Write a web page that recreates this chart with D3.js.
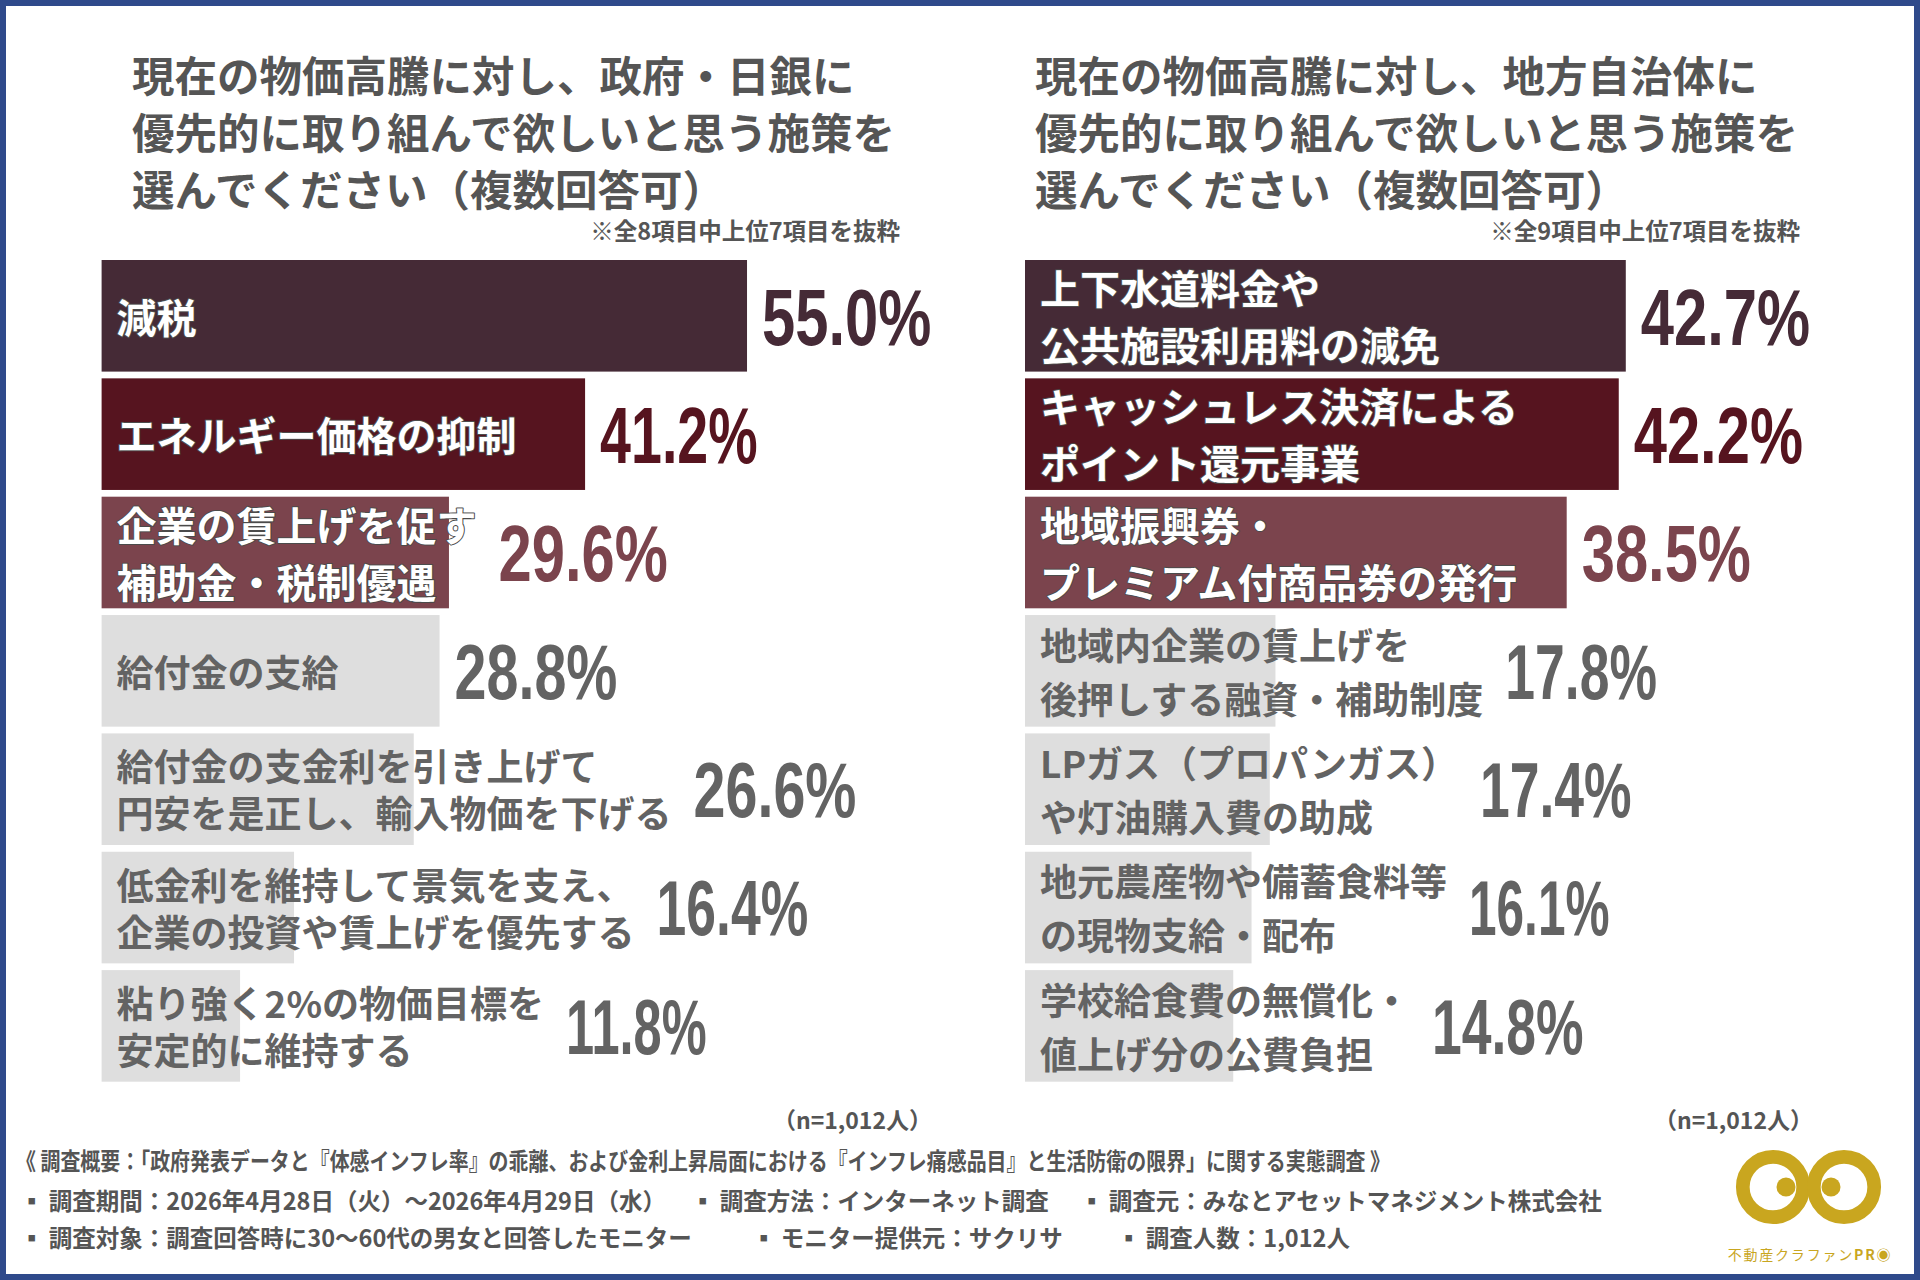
<!DOCTYPE html>
<html>
<head>
<meta charset="utf-8">
<script src="https://cdn.jsdelivr.net/npm/d3@7"></script>
<style>
  body { margin: 0; background: #fff; }
  svg { display: block; }
</style>
</head>
<body>
<div id="chart"></div>
<script>
// --- data ---
var leftTitle = ["現在の物価高騰に対し、政府・日銀に", "優先的に取り組んで欲しいと思う施策を", "選んでください（複数回答可）"];
var leftNote = "※全8項目中上位7項目を抜粋";
var leftLabels = [
  ["減税"],
  ["エネルギー価格の抑制"],
  ["企業の賃上げを促す", "補助金・税制優遇"],
  ["給付金の支給"],
  ["給付金の支金利を引き上げて", "円安を是正し、輸入物価を下げる"],
  ["低金利を維持して景気を支え、", "企業の投資や賃上げを優先する"],
  ["粘り強く2%の物価目標を", "安定的に維持する"]
];
var leftValues = [55.0, 41.2, 29.6, 28.8, 26.6, 16.4, 11.8];

var rightTitle = ["現在の物価高騰に対し、地方自治体に", "優先的に取り組んで欲しいと思う施策を", "選んでください（複数回答可）"];
var rightNote = "※全9項目中上位7項目を抜粋";
var rightLabels = [
  ["上下水道料金や", "公共施設利用料の減免"],
  ["キャッシュレス決済による", "ポイント還元事業"],
  ["地域振興券・", "プレミアム付商品券の発行"],
  ["地域内企業の賃上げを", "後押しする融資・補助制度"],
  ["LPガス（プロパンガス）", "や灯油購入費の助成"],
  ["地元農産物や備蓄食料等", "の現物支給・配布"],
  ["学校給食費の無償化・", "値上げ分の公費負担"]
];
var rightValues = [42.7, 42.2, 38.5, 17.8, 17.4, 16.1, 14.8];

var sampleLabel = "（n=1,012人）";
var footerLines = [
  ["《 調査概要：「政府発表データと『体感インフレ率』の乖離、および金利上昇局面における『インフレ痛感品目』と生活防衛の限界」に関する実態調査 》"],
  ["▪ 調査期間：2026年4月28日（火）～2026年4月29日（水）", "▪ 調査方法：インターネット調査", "▪ 調査元：みなとアセットマネジメント株式会社"],
  ["▪ 調査対象：調査回答時に30～60代の男女と回答したモニター", "▪ モニター提供元：サクリサ", "▪ 調査人数：1,012人"]
];
var logoName = "不動産クラファン";
var logoPro = "PR◉";

// --- styles ---
var rankColors = ["#452a36", "#56141f", "#7b444d"];
var grayBar = "#dedede";
var grayText = "#636363";
var titleColor = "#555555";
var gold = "#c9a61f";
var jp = "'Noto Sans CJK JP', 'Noto Sans', sans-serif";
var numFont = "'Liberation Sans Narrow', 'Liberation Sans', 'DejaVu Sans Condensed', sans-serif";

// condensed look for the percentages: width per glyph in em
function pctWidth(s, fs) {
  var w = 0;
  s.split("").forEach(function(ch) {
    if (ch === "1") w += 0.24;
    else if (ch === ".") w += 0.43;
    else if (ch === "%") w += 0.53;
    else w += 0.385;
  });
  return w * fs;
}

var width = 1920, height = 1280;
var svg = d3.select("#chart").append("svg")
  .attr("width", width)
  .attr("height", height);

svg.append("rect")
  .attr("x", 3).attr("y", 3)
  .attr("width", width - 6).attr("height", height - 6)
  .attr("fill", "#fff")
  .attr("stroke", "#2f4a8b")
  .attr("stroke-width", 6);

var y = d3.scaleBand()
  .domain(d3.range(7))
  .range([260, 1081.7])
  .paddingInner(0.057);

var panels = [
  {title: leftTitle, note: leftNote, labels: leftLabels, values: leftValues,
   x0: 101.6, x1: 101.6 + 1173.5, titleX: 132, noteX: 900, grayGap: 47, nX: 932},
  {title: rightTitle, note: rightNote, labels: rightLabels, values: rightValues,
   x0: 1025, x1: 1025 + 1407, titleX: 1035, noteX: 1800, grayGap: 54, nX: 1813}
];

panels.forEach(function(p) {
  var g = svg.append("g");
  var x = d3.scaleLinear().domain([0, 100]).range([p.x0, p.x1]);

  g.selectAll(".title")
    .data(p.title)
    .enter().append("text")
    .attr("class", "title")
    .attr("x", p.titleX)
    .attr("y", function(d, i) { return 92 + i * 57; })
    .attr("font-family", jp)
    .attr("font-weight", 700)
    .attr("font-size", "42.5px")
    .attr("fill", titleColor)
    .text(function(d) { return d; });

  g.append("text")
    .attr("x", p.noteX)
    .attr("y", 240)
    .attr("text-anchor", "end")
    .attr("font-family", jp)
    .attr("font-weight", 700)
    .attr("font-size", "23.5px")
    .attr("fill", titleColor)
    .text(p.note);

  g.append("text")
    .attr("x", p.nX)
    .attr("y", 1129)
    .attr("text-anchor", "end")
    .attr("font-family", jp)
    .attr("font-weight", 700)
    .attr("font-size", "23px")
    .attr("fill", titleColor)
    .text(sampleLabel);

  var rows = g.selectAll(".row")
    .data(p.values)
    .enter().append("g")
    .attr("class", "row");

  rows.append("rect")
    .attr("x", x(0))
    .attr("y", function(d, i) { return y(i); })
    .attr("width", function(d) { return x(d) - x(0); })
    .attr("height", y.bandwidth())
    .attr("fill", function(d, i) { return i < 3 ? rankColors[i] : grayBar; });

  rows.each(function(v, i) {
    var row = d3.select(this);
    var top = i < 3;
    var fs = top ? 40 : 37;
    var lines = p.labels[i];
    var gap = top ? 57 : p.grayGap;
    var yc = y(i) + y.bandwidth() / 2 + 2;

    var label = row.append("text")
      .attr("font-family", jp)
      .attr("font-weight", 700)
      .attr("font-size", fs + "px")
      .attr("fill", top ? "#fff" : grayText);
    if (top) {
      label.attr("stroke", "#4b4b4b")
        .attr("stroke-width", 2)
        .attr("stroke-linejoin", "round")
        .attr("paint-order", "stroke");
    }

    var textEnd = 0;
    lines.forEach(function(line, k) {
      var cy = yc + (k - (lines.length - 1) / 2) * gap;
      var t = label.append("tspan")
        .attr("x", x(0) + 15)
        .attr("y", cy + fs * 0.37)
        .text(line);
      textEnd = Math.max(textEnd, x(0) + 15 + t.node().getComputedTextLength());
    });

    var px = Math.max(x(v) + 15, textEnd + 22);
    var nfs = top ? 80 : 77;
    var s = d3.format(".1f")(v) + "%";
    row.append("text")
      .attr("x", px)
      .attr("y", y(i) + y.bandwidth() / 2 + nfs * 0.36)
      .attr("font-family", numFont)
      .attr("font-weight", 700)
      .attr("font-size", nfs + "px")
      .attr("fill", top ? rankColors[i] : grayText)
      .attr("textLength", pctWidth(s, nfs))
      .attr("lengthAdjust", "spacingAndGlyphs")
      .text(s);
  });
});

// footer
var footerX = [[16], [20, 691, 1080], [20, 752, 1117]];
var footerY = [1170, 1210, 1247];
footerLines.forEach(function(segs, li) {
  var t = svg.selectAll(".foot" + li)
    .data(segs)
    .enter().append("text")
    .attr("class", "foot" + li)
    .attr("x", function(d, k) { return footerX[li][k]; })
    .attr("y", footerY[li])
    .attr("font-family", jp)
    .attr("font-weight", 700)
    .attr("font-size", "23.5px")
    .attr("fill", titleColor)
    .text(function(d) { return d; });
  if (li === 0) t.attr("textLength", 1374).attr("lengthAdjust", "spacingAndGlyphs");
});

// logo
var logo = svg.append("g");
[[1773, 13], [1844, -13]].forEach(function(c) {
  logo.append("circle")
    .attr("cx", c[0]).attr("cy", 1187).attr("r", 30.2)
    .attr("fill", "none").attr("stroke", gold).attr("stroke-width", 13.7);
  logo.append("circle")
    .attr("cx", c[0] + c[1]).attr("cy", 1187).attr("r", 9.5)
    .attr("fill", gold);
});
var lt = logo.append("text")
  .attr("x", 1810)
  .attr("y", 1260)
  .attr("text-anchor", "middle")
  .attr("font-family", jp)
  .attr("font-size", "14px")
  .attr("letter-spacing", "1.8px")
  .attr("fill", gold);
lt.append("tspan").text(logoName);
lt.append("tspan").attr("font-weight", 700).text(logoPro);
</script>
</body>
</html>
